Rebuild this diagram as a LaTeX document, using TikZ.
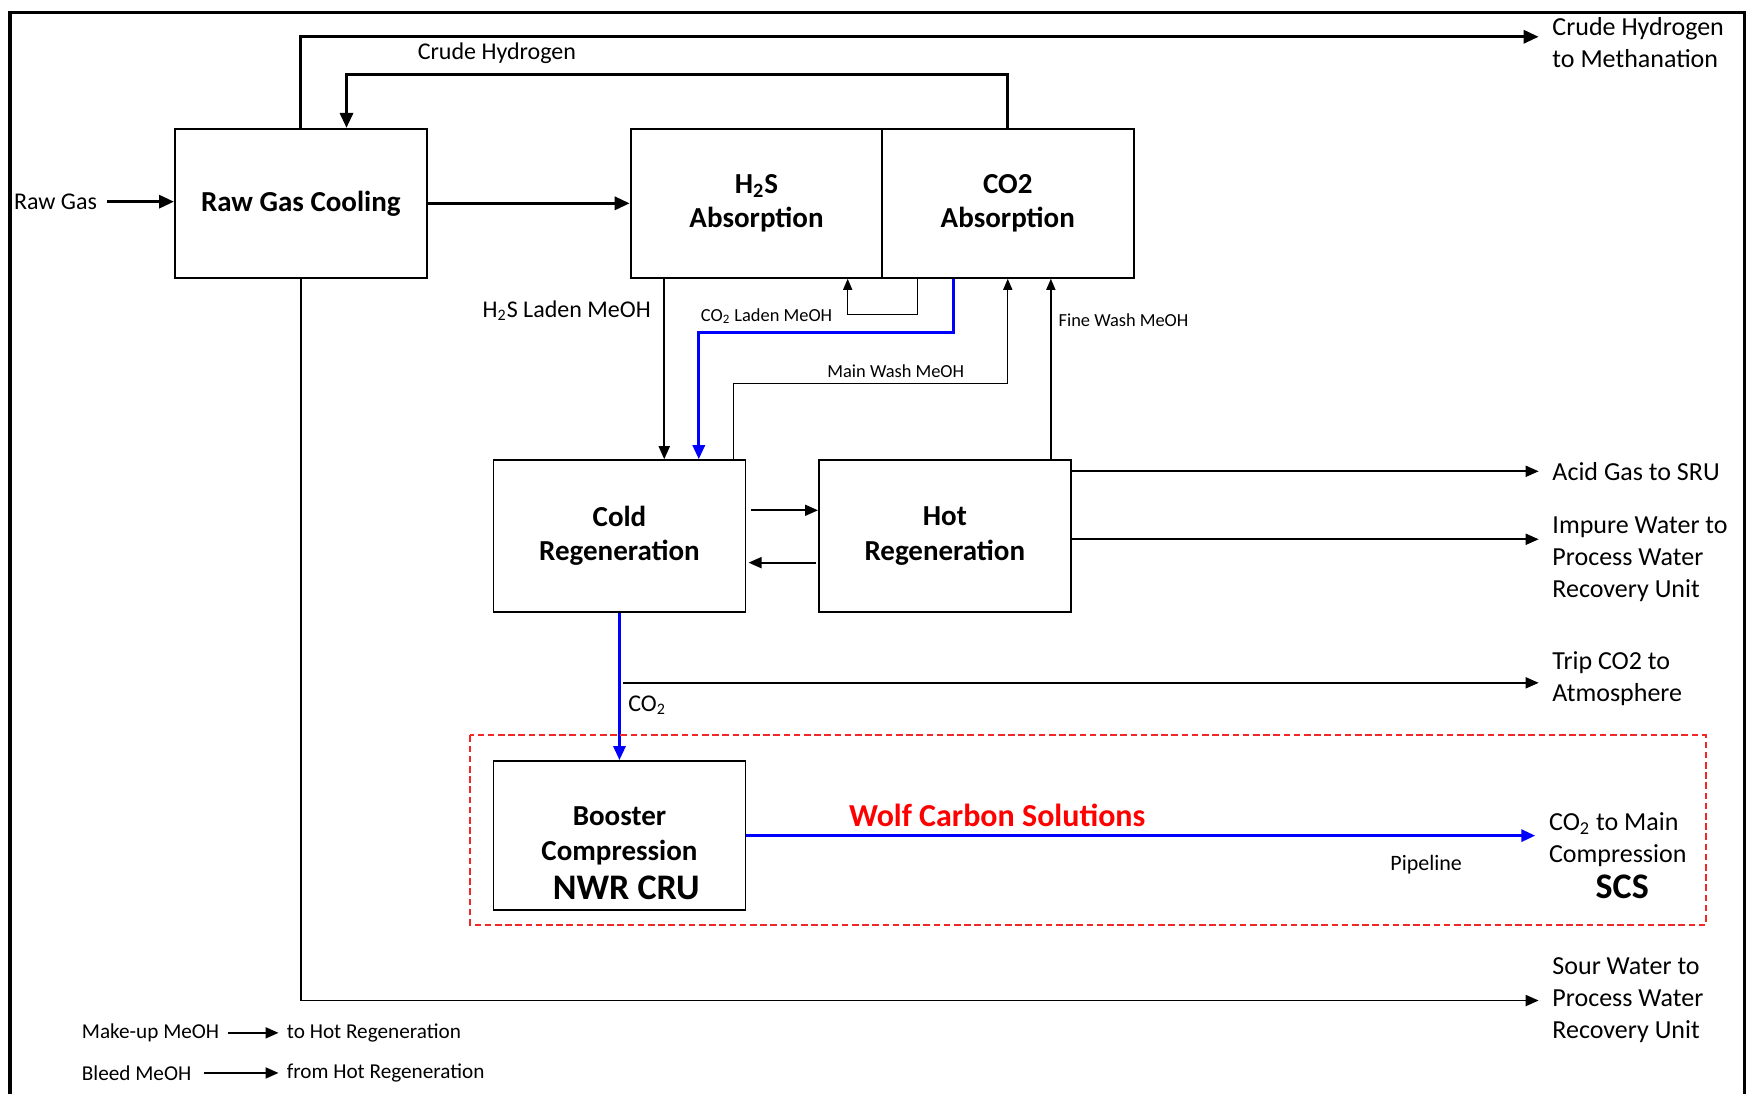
\documentclass[tikz,border=0pt]{standalone}
\usepackage{fontspec}
\setmainfont{Carlito}
\usetikzlibrary{arrows.meta,calc}
\tikzset{
    unit/.style={draw,line width=0.9pt,minimum width=125.9pt,minimum height=74.5pt,align=center,
        font=\fontsize{14.5}{17.3}\selectfont\bfseries},
    flow/.style={-{Triangle[length=6.5pt,width=5.5pt]},line width=0.9pt},
    thickflow/.style={-{Triangle[length=7.5pt,width=6.5pt]},line width=1.6pt},
    thinflow/.style={-{Triangle[length=5.5pt,width=4.5pt]},line width=0.7pt}
}

\begin{document}
\begin{tikzpicture}[
    x=0.557pt,y=-0.557pt,
    lbl/.style={inner sep=2pt,font=\fontsize{12}{14}\selectfont},
    small/.style={inner sep=1pt,font=\fontsize{9.2}{11}\selectfont},
    outlet/.style={anchor=west,align=left,inner xsep=6.7pt,inner ysep=0pt,font=\fontsize{13}{16}\selectfont},
    legend/.style={anchor=west,inner xsep=4pt,font=\fontsize{10.6}{12}\selectfont},
    big/.style={inner sep=0pt,font=\fontsize{18}{20}\selectfont\bfseries},
    blueflow/.style={flow,draw=blue,line width=1.5pt,-{Triangle[length=7pt,width=6pt]},blue},
    zone/.style={draw={rgb,255:red,240;green,40;blue,40},line width=0.9pt,dash pattern=on 3.3pt off 1.8pt}
]
\useasboundingbox (0,0) rectangle (1568,982);
% cadre
\draw[line width=1.6pt] (9,982) -- (9,11) -- (1566,11) -- (1566,982);

% Les unites
\node[unit] (rgc) at (270,182.5) {Raw Gas Cooling};
\node[unit] (h2s) at (679,182.5) {H\textsubscript{2}S\\Absorption};
\node[unit] (co2a) at (904.5,182.5) {CO2\\Absorption};
\node[unit,minimum height=75.8pt] (cold) at (556,481) {Cold\\Regeneration};
\node[unit,minimum height=75.8pt] (hot) at (848,481) {Hot\\Regeneration};
\node[unit,minimum height=74.6pt] (boost) at (556,750) {Booster\\Compression};
\node[big] (nwr) at (562,797) {NWR CRU};

% Sorties a droite
\node[outlet] (methan) at (1381,38) {Crude Hydrogen\\to Methanation};
\node[outlet] (acid) at (1381,423) {Acid Gas to SRU};
\node[outlet] (impure) at (1381,502) {Impure Water to\\Process Water\\Recovery Unit};
\node[outlet] (trip) at (1381,609) {Trip CO2 to\\Atmosphere};
\node[outlet] (co2main) at (1378,754) {CO\textsubscript{2} to Main\\Compression};
\node[big] (scs) at (1456,796) {SCS};
\node[outlet] (sour) at (1381,898) {Sour Water to\\Process Water\\Recovery Unit};

% Gaz brut
\node[lbl,anchor=east] (rawgas) at (91,181) {Raw Gas};
\draw[thickflow,shorten <=3pt] (rawgas.east) -- (rawgas.east -| rgc.west);
\draw[thickflow] (rgc.east) -- (h2s.west);

% Hydrogene brut
\draw[thickflow] (rgc.north) |- ($(methan.west)+(0,-5)$);
\draw[thickflow] (co2a.north) -- ++(0,-48) -| ($(rgc.north)+(41,0)$);
\node[lbl] (crudelbl) at (446,48) {Crude Hydrogen};

% Methanol charge
\draw[flow] ($(h2s.south west)+(31,0)$) coordinate (h2sout) -- (h2sout |- cold.north);
\node[lbl,anchor=east] (h2sladen) at (588,279) {H\textsubscript{2}S Laden MeOH};
\draw[thinflow] ($(co2a.south west)+(33,0)$) -- ++(0,32) -| ($(h2s.south east)+(-32,0)$);
\draw[blueflow] ($(co2a.south west)+(65,0)$) -- ++(0,48) -| ($(cold.north west)+(185,0)$);
\node[small] (co2laden) at (688,284) {CO\textsubscript{2} Laden MeOH};

% Lavage
\draw[thinflow] ($(cold.north west)+(216,0)$) -- ++(0,-68) -| (co2a.south);
\node[small] (mainwash) at (804,333) {Main Wash MeOH};
\draw[thinflow] ($(hot.north west)+(209,0)$) coordinate (fw) -- (fw |- co2a.south);
\node[small,anchor=west] (finewash) at (948,287) {Fine Wash MeOH};

% Regeneration
\draw[flow] ($(cold.east)+(4,-23)$) -- ($(hot.west)+(0,-23)$);
\draw[flow] ($(hot.west)+(-2,24)$) -- ($(cold.east)+(2,24)$);
\draw[flow] (acid.west -| hot.east) -- (acid.west);
\draw[flow] ($(hot.east)+(0,3)$) coordinate (iw) -- (iw -| impure.west);

% CO2
\draw[blueflow] (cold.south) -- (boost.north);
\node[lbl,anchor=west] (co2lbl) at (560,633) {CO\textsubscript{2}};
\draw[flow] ($(cold.south)+(3,63)$) coordinate (tr) -- (tr -| trip.west);

% Zone WCS
\draw[zone] (422,660) rectangle (1531,830);
\draw[blueflow] (boost.east) -- (boost.east -| co2main.west);
\node[font=\fontsize{16}{18}\selectfont\bfseries,text=red] (wolf) at (895,732) {Wolf Carbon Solutions};
\node[lbl,font=\fontsize{11}{13}\selectfont] (pipe) at (1280,776) {Pipeline};

% Eau acide
\draw[flow] (rgc.south) |- (sour.west);

% Legende
\node[legend] (makeup) at (66,927) {Make-up MeOH};
\node[legend] (tohot) at (250,927) {to Hot Regeneration};
\node[legend] (bleed) at (66,963) {Bleed MeOH};
\node[legend] (fromhot) at (250,963) {from Hot Regeneration};
\draw[flow] (makeup.east) -- (tohot.west);
\draw[flow,shorten <=2pt] (bleed.east) -- (fromhot.west);
\end{tikzpicture}
\end{document}
